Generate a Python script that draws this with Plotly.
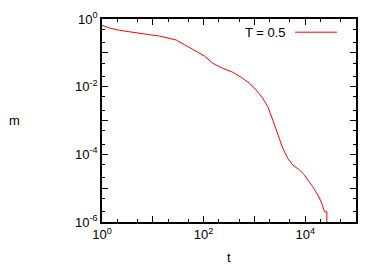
import plotly.graph_objects as go

# data (t, m)
t_vals = [1, 1.41, 2.21, 3.48, 5.47, 8.61, 13.5, 21.3, 28.9, 42.1, 61.3, 83.0,
          104, 152, 239, 376, 550, 801, 1084, 1462, 1836, 2301, 2890, 3622,
          4540, 5700, 7720, 9690, 11250, 14120, 17700, 20650, 23990, 26610, 26610]
m_vals = [0.65, 0.542, 0.463, 0.413, 0.378, 0.343, 0.314, 0.274, 0.239, 0.174,
          0.124, 0.0989, 0.0806, 0.0490, 0.0349, 0.0266, 0.0189, 0.0126,
          0.00796, 0.00453, 0.00256, 0.00103, 3.72e-4, 1.51e-4, 7.62e-5,
          4.83e-5, 3.44e-5, 2.45e-5, 1.74e-5, 1.10e-5, 6.27e-6, 3.97e-6,
          2.01e-6, 2.01e-6, 1e-7]
series_name = "T = 0.5"

x_tickvals = [1, 10, 100, 1000, 10000, 100000]
x_ticktext = ["10<sup>0</sup>", "", "10<sup>2</sup>", "", "10<sup>4</sup>", ""]
y_tickvals = [1, 0.1, 0.01, 0.001, 1e-4, 1e-5, 1e-6]
y_ticktext = ["10<sup>0</sup>", "", "10<sup>-2</sup>", "", "10<sup>-4</sup>", "", "10<sup>-6</sup>"]

font = dict(family="Liberation Sans, Arial, sans-serif", size=13, color="black")

fig = go.Figure()
fig.add_trace(go.Scatter(x=t_vals, y=m_vals, mode="lines", name=series_name,
                         line=dict(color="#ff0000", width=1), showlegend=False))

axis_common = dict(type="log", showline=True, linecolor="black", linewidth=1.5,
                   mirror="allticks", ticks="inside", ticklen=6, tickwidth=1,
                   tickcolor="black", showgrid=False, zeroline=False,
                   automargin=False,
                   minor=dict(ticks="inside", ticklen=3, tickcolor="black",
                              dtick="D2", showgrid=False),
                   tickfont=font)

fig.update_xaxes(range=[0, 5], tickvals=x_tickvals, ticktext=x_ticktext, **axis_common)
fig.update_yaxes(range=[-6, 0], tickvals=y_tickvals, ticktext=y_ticktext, **axis_common)

fig.add_annotation(text="m", xref="paper", yref="paper", x=-0.343, y=0.5,
                   showarrow=False, font=font, xanchor="center", yanchor="middle")
fig.add_annotation(text="t", xref="paper", yref="paper", x=0.5, y=-0.175,
                   showarrow=False, font=font, xanchor="center", yanchor="middle")
# legend (text left, sample line right, gnuplot style)
fig.add_annotation(text=series_name, xref="paper", yref="paper", x=0.733, y=0.935,
                   showarrow=False, font=font, xanchor="right", yanchor="middle")
fig.add_shape(type="line", xref="paper", yref="paper", x0=0.76, x1=0.925,
              y0=0.935, y1=0.935, line=dict(color="#ff0000", width=1))

fig.update_layout(width=382, height=267, margin=dict(l=102, r=26, t=19, b=45),
                  plot_bgcolor="white", paper_bgcolor="white", font=font)
fig.write_html("out.html", config={"displayModeBar": False},
               post_script="document.body.style.margin='0';")
